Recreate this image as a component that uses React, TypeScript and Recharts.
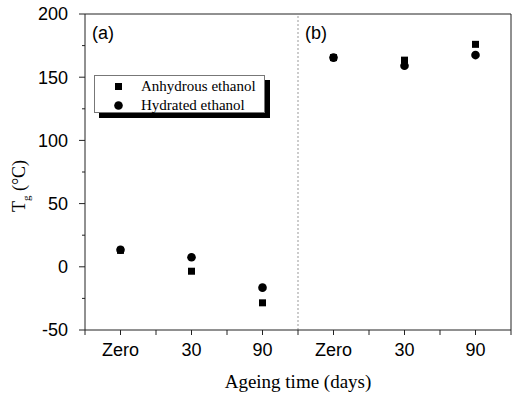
import React from 'react';
import {
	Legend,
	ReferenceLine,
	Scatter,
	ScatterChart,
	XAxis,
	YAxis,
} from 'recharts';

document.body.style.margin = '0';

const categories = ['Zero', '30', '90', 'Zero', '30', '90'];
const anhydrous = [13, -3.5, -28.5, 165.5, 163.5, 176];
const hydrated = [13.5, 7.5, -16.5, 165.5, 159, 167.5];
const yTicks = [-50, -25, 0, 25, 50, 75, 100, 125, 150, 175, 200];
const seriesNames = ['Anhydrous ethanol', 'Hydrated ethanol'];
const panelLabels = ['(a)', '(b)'];

const AXIS = '#222';
const SANS = '"Liberation Sans", Arial, sans-serif';
const SERIF = '"Liberation Serif", "Times New Roman", serif';
const TICK_SIZE = 6;
const TICK_MARGIN = 11;

const anhydrousData = anhydrous.map((y, i) => ({ x: i + 0.5, y }));
const hydratedData = hydrated.map((y, i) => ({ x: i + 0.5, y }));

const bottomTicks = categories.flatMap((_, i) => [i, i + 0.5]).concat(categories.length);
const topTicks = Array.from({ length: 11 }, (_, i) => (i * categories.length) / 10);

const SquareDot = (props: any) => {
	const { cx, cy } = props;
	return <rect x={cx - 3.5} y={cy - 3.5} width={7} height={7} fill='#000' />;
};

const CircleDot = (props: any) => {
	const { cx, cy } = props;
	return <circle cx={cx} cy={cy} r={4.3} fill='#000' />;
};

const LeftTick = (props: any) => {
	const { x, y, payload } = props;
	const major = payload.value % 50 === 0;
	const ax = x + TICK_SIZE + TICK_MARGIN;
	return (
		<g>
			<line x1={ax} x2={ax - (major ? TICK_SIZE : 3)} y1={y} y2={y} stroke={AXIS} />
			{major && (
				<text x={x} y={y} dy='0.36em' textAnchor='end' fontSize={18} fontFamily={SANS} fill='#000'>
					{payload.value}
				</text>
			)}
		</g>
	);
};

const YLabel = (props: any) => {
	const { viewBox } = props;
	const x = viewBox.x + 25;
	const y = viewBox.y + viewBox.height / 2 + 14;
	return (
		<text
			x={x}
			y={y}
			transform={`rotate(-90, ${x}, ${y})`}
			textAnchor='middle'
			fontFamily={SERIF}
			fontSize={18}
			fill='#000'
		>
			<tspan>T</tspan>
			<tspan fontSize={11} dy={5}>g</tspan>
			<tspan dy={-5}> (°C)</tspan>
		</text>
	);
};

const panelLabel = (text: string) => (props: any) => {
	const { viewBox } = props;
	return (
		<text x={viewBox.x + 7} y={viewBox.y + 25} fontFamily={SANS} fontSize={18} fill='#000'>
			{text}
		</text>
	);
};

const LegendBox = () => (
	<div
		style={{
			width: 171,
			height: 38,
			boxSizing: 'border-box',
			border: '1px solid #777',
			background: '#fff',
			boxShadow: '5px 5px 0 #000',
			paddingTop: 1,
			fontFamily: SERIF,
			fontSize: 15,
			color: '#000',
		}}
	>
		{seriesNames.map((name, i) => (
			<div key={name} style={{ display: 'flex', alignItems: 'center', height: 19 }}>
				<svg width={46} height={19}>
					{i === 0 ? (
						<rect x={20} y={6} width={7} height={7} fill='#000' />
					) : (
						<circle cx={23.5} cy={9.5} r={4.3} fill='#000' />
					)}
				</svg>
				<span style={{ whiteSpace: 'nowrap' }}>{name}</span>
			</div>
		))}
	</div>
);

export default function App() {
	return (
		<div style={{ width: 515, height: 396, background: '#fff' }}>
			<ScatterChart width={515} height={396} margin={{ top: 14, right: 4, bottom: 0, left: 0 }}>
				<XAxis
					dataKey='x'
					type='number'
					domain={[0, categories.length]}
					ticks={bottomTicks}
					interval={0}
					tickFormatter={(v: number) => (v % 1 === 0.5 ? categories[Math.floor(v)] : '')}
					height={66}
					tickSize={5}
					tickMargin={8}
					stroke={AXIS}
					tick={{ fill: '#000', fontSize: 18, fontFamily: SANS }}
					label={{
						value: 'Ageing time (days)',
						position: 'insideBottom',
						offset: 8,
						fill: '#000',
						fontSize: 19,
						fontFamily: SERIF,
					}}
				/>
				<XAxis
					xAxisId='top'
					orientation='top'
					type='number'
					domain={[0, categories.length]}
					ticks={topTicks}
					interval={0}
					mirror
					height={1}
					tickSize={5}
					tickFormatter={() => ''}
					stroke={AXIS}
				/>
				<YAxis
					dataKey='y'
					type='number'
					domain={[-50, 200]}
					ticks={yTicks}
					interval={0}
					width={85}
					tickLine={false}
					tickSize={TICK_SIZE}
					tickMargin={TICK_MARGIN}
					tick={<LeftTick />}
					stroke={AXIS}
					label={<YLabel />}
				/>
				<YAxis
					yAxisId='right'
					orientation='right'
					type='number'
					domain={[-50, 200]}
					ticks={yTicks}
					interval={0}
					mirror
					width={1}
					tickSize={5}
					tickFormatter={() => ''}
					stroke={AXIS}
				/>
				<ReferenceLine x={0} stroke='none' label={panelLabel(panelLabels[0])} />
				<ReferenceLine
					x={categories.length / 2}
					stroke='#999'
					strokeDasharray='2 2'
					label={panelLabel(panelLabels[1])}
				/>
				<Legend
					layout='horizontal'
					verticalAlign='middle'
					align='center'
					content={<LegendBox />}
					wrapperStyle={{ position: 'absolute', left: 94, top: 75, width: 171 }}
				/>
				<Scatter
					name={seriesNames[0]}
					data={anhydrousData}
					dataKey='y'
					shape={<SquareDot />}
					isAnimationActive={false}
				/>
				<Scatter
					name={seriesNames[1]}
					data={hydratedData}
					dataKey='y'
					shape={<CircleDot />}
					isAnimationActive={false}
				/>
			</ScatterChart>
		</div>
	);
}
